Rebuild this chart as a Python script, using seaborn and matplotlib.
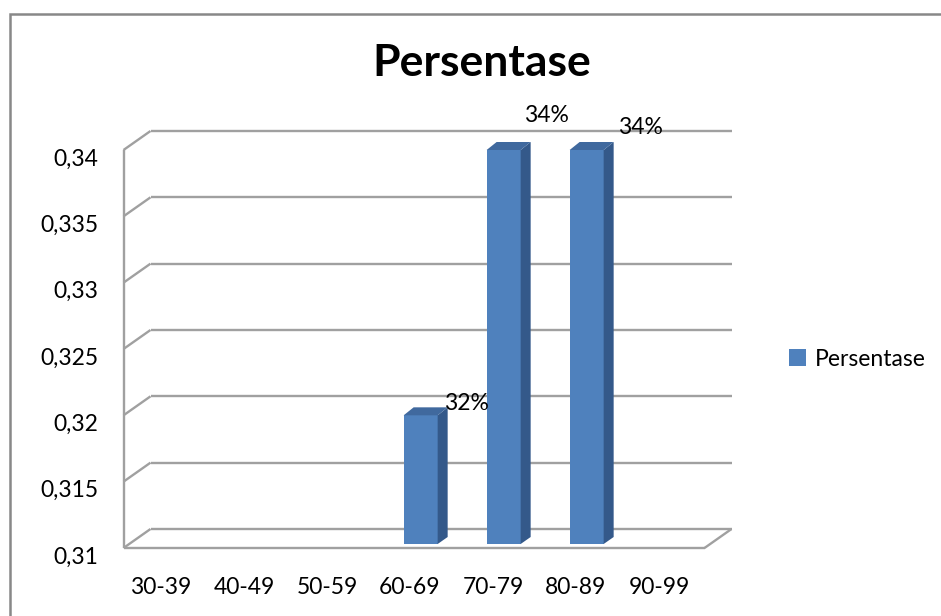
import numpy as np
import pandas as pd
import matplotlib
matplotlib.use("Agg")
import matplotlib.pyplot as plt
import seaborn as sns
from matplotlib.patches import Polygon, Rectangle
from matplotlib.lines import Line2D
from matplotlib.transforms import IdentityTransform, ScaledTranslation

# ---- data ----
categories = ["30-39", "40-49", "50-59", "60-69", "70-79", "80-89", "90-99"]
bar_categories = ["60-69", "70-79", "80-89"]
bar_values = [0.32, 0.34, 0.34]
bar_labels = ["32%", "34%", "34%"]
y_ticks = [0.31, 0.315, 0.32, 0.325, 0.33, 0.335, 0.34]
y_tick_labels = ["0,31", "0,315", "0,32", "0,325", "0,33", "0,335", "0,34"]
series_name = "Persentase"
title = "Persentase"

# ---- style ----
sns.set_theme(style="white")
plt.rcParams["font.family"] = ["Lato", "DejaVu Sans"]
plt.rcParams["text.color"] = "black"
plt.rcParams["xtick.color"] = "black"
plt.rcParams["ytick.color"] = "black"
plt.rcParams["xtick.labelcolor"] = "black"
plt.rcParams["ytick.labelcolor"] = "black"
FRONT = "#4F81BD"
SIDE = "#34598A"
TOP = "#40699E"
GRID = "#A0A0A0"
DX, DY = 27, 19          # depth of the back wall in px
BDX, BDY = 10, 8         # depth of each bar in px
FS = 16.5

W, H = 941, 616
fig = plt.figure(figsize=(W / 100, H / 100), dpi=100)
fig.patch.set_facecolor("white")
ax = fig.add_axes([123.5 / W, 1 - 548 / H, 581 / W, 398 / H])

df = pd.DataFrame({"Kelompok": bar_categories, "Persentase": bar_values})
sns.barplot(data=df, x="Kelompok", y="Persentase", order=categories,
            color=FRONT, saturation=1, width=0.41, ax=ax, zorder=5,
            edgecolor="none", linewidth=0)
ax.set_xlim(-0.5, len(categories) - 0.5)
ax.set_ylim(y_ticks[0], y_ticks[-1])
for s in ax.spines.values():
    s.set_visible(False)
ax.set_facecolor("none")
ax.set_xlabel("")
ax.set_ylabel("")
ax.set_yticks(y_ticks)
ax.set_yticklabels(y_tick_labels, fontsize=FS, color="black")
ax.set_xticks(range(len(categories)))
ax.set_xticklabels(categories, fontsize=FS, color="black")
ax.tick_params(axis="y", length=0, pad=18)
ax.tick_params(axis="x", length=0, pad=21)
for lab in ax.get_yticklabels():
    lab.set_transform(lab.get_transform() + ScaledTranslation(0, -7 / 100, fig.dpi_scale_trans))
for lab in ax.get_xticklabels():
    lab.set_transform(lab.get_transform() + ScaledTranslation(-4 / 100, 0, fig.dpi_scale_trans))

T = ax.transData
x0, x1 = -0.5, len(categories) - 0.5


def dline(p, q, z=1):
    ln = Line2D([p[0], q[0]], [p[1], q[1]], transform=IdentityTransform(),
                color=GRID, lw=1.7, zorder=z, solid_capstyle="butt", clip_on=False)
    ax.add_line(ln)


# back wall gridlines + left diagonals
for t in y_ticks:
    a = T.transform((x0, t))
    b = T.transform((x1, t))
    dline(a + [DX, DY], b + [DX, DY])
    dline(a, a + [DX, DY])
# left vertical front edge
dline(T.transform((x0, y_ticks[0])), T.transform((x0, y_ticks[-1])))
# floor front edge and right diagonal
fa = T.transform((x0, y_ticks[0]))
fb = T.transform((x1, y_ticks[0]))
dline(fa, fb)
dline(fb, fb + [DX, DY])

# bars stand slightly back on the floor
base = T.inverted().transform((0, fa[1] + 4))[1]

# 3D faces for the bars
for p in ax.patches:
    if not np.isfinite(p.get_height()) or p.get_height() == 0:
        continue
    p.set_x(p.get_x() + 0.08)
    top = p.get_height()
    p.set_y(base)
    p.set_height(top - base)
    bx0, bx1 = p.get_x(), p.get_x() + p.get_width()
    l_t = T.transform((bx0, top))
    r_t = T.transform((bx1, top))
    r_b = T.transform((bx1, base))
    side = Polygon([r_b, r_t, r_t + [BDX, BDY], r_b + [BDX, BDY - 1]],
                   closed=True, transform=IdentityTransform(),
                   facecolor=SIDE, edgecolor="none", zorder=6, clip_on=False)
    topf = Polygon([l_t, r_t, r_t + [BDX, BDY], l_t + [BDX, BDY]],
                   closed=True, transform=IdentityTransform(),
                   facecolor=TOP, edgecolor="none", zorder=6, clip_on=False)
    ax.add_patch(side)
    ax.add_patch(topf)

# data labels
label_offsets_px = [(46, 12), (43, 34), (54, 22)]
for cat, v, lab, off in zip(bar_categories, bar_values, bar_labels, label_offsets_px):
    xi = categories.index(cat) + 0.08
    ax.annotate(lab, xy=(xi, v), xytext=(off[0] * 0.72, off[1] * 0.72),
                textcoords="offset points", ha="center", va="center",
                fontsize=FS, color="black", zorder=10, annotation_clip=False)

# title
fig.text(482 / W, 1 - 63 / H, title, fontsize=32, fontweight="bold",
         ha="center", va="center", color="black")

# legend
handle = Rectangle((0, 0), 1, 1, facecolor=FRONT, edgecolor="none")
leg = fig.legend([handle], [series_name], loc="center left",
                 bbox_to_anchor=(768 / W, 1 - 359 / H), frameon=False,
                 fontsize=FS, handlelength=0.75, handleheight=0.75, handletextpad=0.4)
for txt in leg.get_texts():
    txt.set_color("black")

# outer chart border
fig.add_artist(Rectangle((10 / W, -0.1), 1.2, 1 - 14 / H + 0.1, fill=False,
                         edgecolor="#888888", lw=1.8, transform=fig.transFigure))

fig.savefig("out.png", dpi=100)
